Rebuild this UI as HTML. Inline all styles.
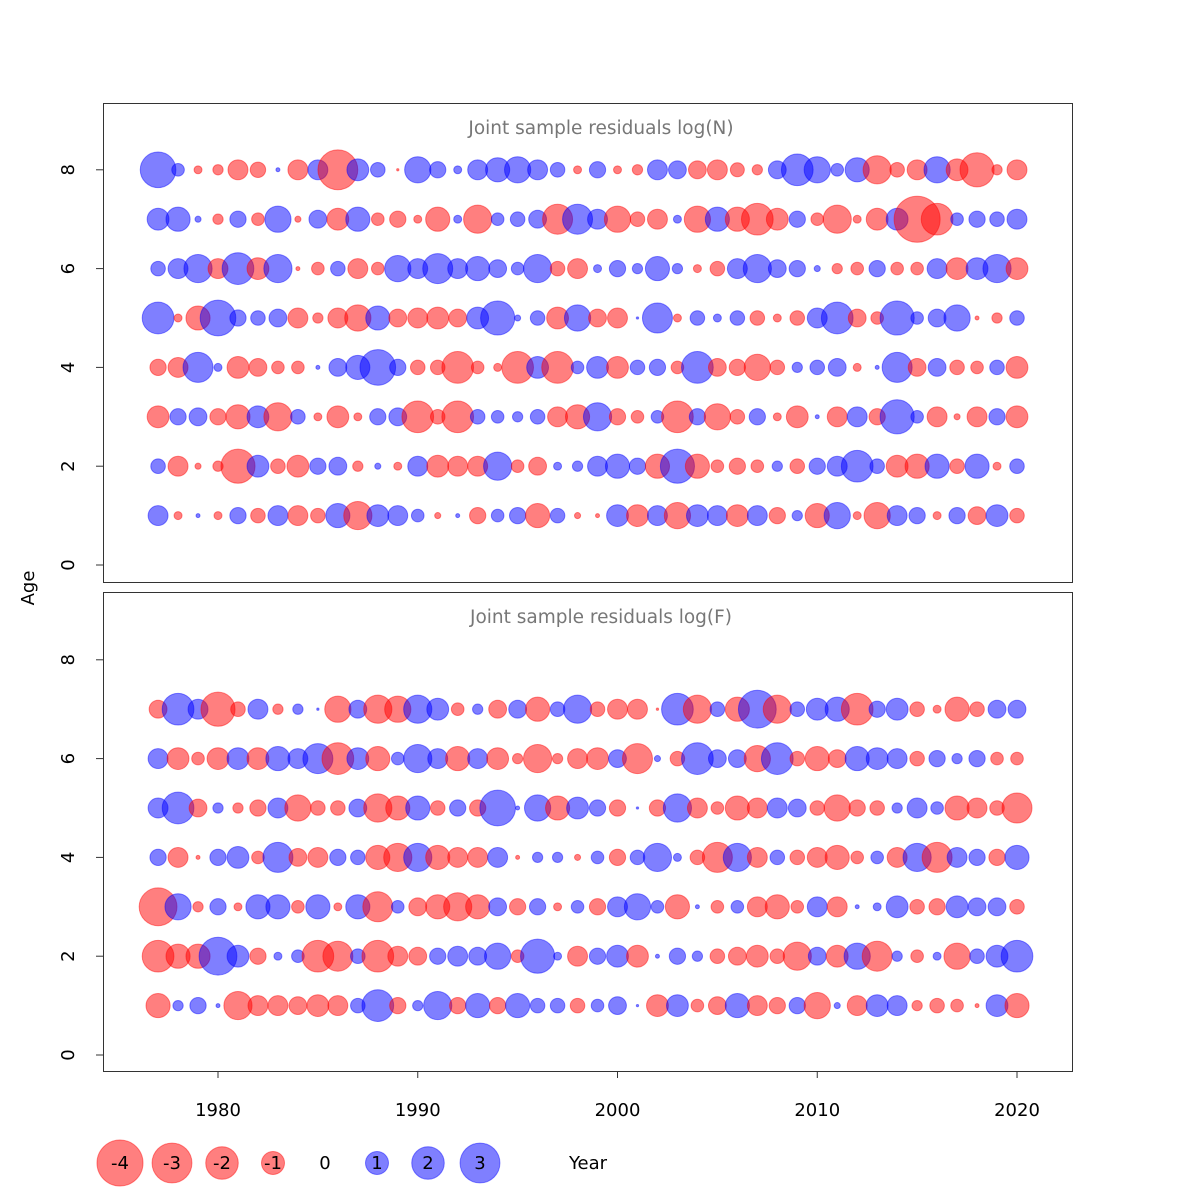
<!DOCTYPE html>
<html><head><meta charset="utf-8"><style>
html,body{margin:0;padding:0;background:#fff;}
svg{display:block;font-family:"DejaVu Sans","Liberation Sans",sans-serif;}
</style></head><body>
<svg id="chart" width="1200" height="1200" viewBox="0 0 1200 1200" xmlns="http://www.w3.org/2000/svg">
<rect width="1200" height="1200" fill="#fff"/>
<g id="panels"></g>
<text x="34" y="588" font-size="18" text-anchor="middle" transform="rotate(-90 34 588)">Age</text>
<text x="588" y="1169" font-size="18" text-anchor="middle">Year</text>
<g id="legend"></g>
</svg>
<script>
const years = [];
for (let y = 1977; y <= 2020; y++) years.push(y);
const xTicks = [1980, 1990, 2000, 2010, 2020];
const yTicks = [0, 2, 4, 6, 8];
const legendValues = [-4, -3, -2, -1, 0, 1, 2, 3];

// Top panel: log(N) residuals, ages 1..8
const nAge8 = [2.4,0.3,-0.12,-0.2,-0.75,-0.45,0.03,-0.75,0.75,-3.0,0.9,0.4,-0.01,1.3,0.5,0.12,0.75,1.1,1.3,0.75,0.4,-0.12,0.5,-0.12,-0.2,0.75,0.6,-0.6,-0.75,-0.37,-0.2,0.6,1.9,1.3,0.3,1.1,-1.5,-0.4,-0.75,1.3,-0.9,-2.2,-0.2,-0.75];
const nAge7 = [0.9,1.1,0.07,-0.2,0.5,-0.3,1.3,-0.07,0.6,-0.9,1.1,-0.3,-0.5,-0.12,-1.1,0.12,-1.5,0.3,0.4,0.6,-1.7,1.7,0.75,-1.3,-0.4,-0.75,0.12,-1.3,1.1,-1.1,-1.9,-0.9,0.5,-0.3,-1.5,-0.12,-0.9,0.9,-4.0,-1.9,0.3,0.5,0.4,0.75];
const nAge6 = [0.4,0.75,1.5,-0.75,1.9,-0.9,1.5,-0.03,-0.3,0.4,-0.75,-0.3,1.3,0.75,1.7,0.75,1.1,0.6,0.3,1.5,-0.4,-0.75,0.12,0.5,0.2,1.1,0.2,-0.12,-0.4,0.75,1.5,0.6,0.5,0.07,-0.2,-0.3,0.5,-0.3,-0.3,0.75,-0.9,0.9,1.5,-0.9];
const nAge5 = [1.9,-0.12,-1.1,2.4,0.5,0.4,0.6,-0.75,-0.2,-0.75,-1.3,1.1,-0.6,-0.75,-0.9,-0.6,0.9,2.2,0.07,0.4,-0.9,1.3,-0.6,-0.75,0.01,1.7,-0.12,0.4,0.12,0.4,-0.4,-0.12,-0.4,0.75,1.9,-0.6,-0.3,2.2,0.3,0.6,1.3,-0.03,-0.2,0.4];
const nAge4 = [-0.5,-0.75,1.7,0.12,-0.9,-0.6,-0.3,-0.3,0.03,0.6,1.1,2.4,0.5,-0.4,-0.4,-1.9,-0.3,-0.12,-1.9,0.9,-1.9,0.3,0.9,-0.9,0.4,0.5,-0.3,1.9,-0.6,-0.5,-1.3,-0.4,0.2,0.4,0.6,-0.12,0.03,1.7,-0.6,0.6,-0.4,-0.3,0.4,-0.9];
const nAge3 = [-0.9,0.5,0.6,-0.5,-1.1,0.9,-1.5,0.4,-0.12,-0.9,-0.12,0.5,0.6,-1.9,-0.4,-1.9,0.4,0.3,0.2,0.4,-0.75,-1.1,1.5,-0.5,-0.3,0.3,-1.9,0.5,-1.3,-0.4,0.5,-0.12,-0.9,0.03,-0.75,0.75,-0.5,2.2,0.3,-0.75,-0.07,-0.75,0.5,-0.9];
const nAge2 = [0.4,-0.75,-0.07,-0.2,-2.2,0.9,-0.4,-0.9,0.5,0.6,-0.2,0.07,-0.12,0.75,-0.9,-0.75,-0.75,1.5,-0.3,-0.6,0.12,0.2,0.75,1.1,0.5,-1.1,2.2,-1.1,-0.3,-0.5,-0.3,0.2,-0.4,0.5,0.75,1.9,0.4,-0.9,-1.1,1.1,-0.4,1.1,-0.12,0.4];
const nAge1 = [0.75,-0.12,0.03,-0.12,0.5,-0.4,0.75,-0.75,-0.4,1.1,-1.5,0.9,0.75,0.3,-0.07,0.03,-0.5,0.3,0.5,-1.1,0.4,-0.07,-0.03,0.9,-0.9,0.75,-1.3,0.9,0.75,-0.9,0.75,-0.5,0.2,-1.1,1.3,-0.12,-1.3,0.75,0.5,-0.12,0.5,-0.6,0.9,-0.4];

// Bottom panel: log(F) residuals, ages 1..7
const fAge7 = [-0.6,1.9,0.75,-2.2,-0.4,0.75,-0.2,0.2,0.01,-1.3,0.6,-1.5,-1.3,1.5,0.9,-0.3,0.2,-0.6,0.6,-1.1,0.4,1.5,-0.4,-0.75,-0.75,-0.01,1.9,-1.5,0.4,-1.1,2.7,-1.5,0.4,0.9,1.1,-1.9,0.5,0.9,-0.4,-0.12,-1.1,-0.4,0.6,0.6];
const fAge6 = [0.75,-0.9,-0.3,-0.9,0.9,-0.9,1.1,0.75,1.7,-1.9,0.9,-1.1,0.3,1.5,0.75,-1.1,0.75,-0.9,-0.2,-1.5,-0.2,-0.75,-0.9,0.6,-1.7,0.07,-0.4,1.9,0.6,0.6,-1.3,1.9,-0.4,-1.1,-0.6,1.1,0.9,0.75,-0.4,0.5,0.2,0.5,-0.3,-0.3];
const fAge5 = [0.75,1.9,-0.6,0.2,-0.2,-0.5,0.75,-1.3,-0.4,-0.4,0.6,-1.5,-1.1,1.1,-0.4,0.5,-0.5,2.4,0.03,1.3,-1.1,0.9,0.5,-0.5,0.01,-0.5,1.5,-0.75,-0.3,-1.1,-0.75,0.75,0.6,-0.4,-1.3,-0.5,-0.4,0.2,0.75,0.3,-1.1,-0.75,-0.4,-1.7];
const fAge4 = [0.5,-0.75,-0.03,0.5,0.9,-0.3,1.7,-0.6,-0.75,0.5,0.4,-1.1,-1.5,1.5,-1.1,-0.75,-0.75,0.75,-0.03,0.2,0.2,-0.07,0.3,-0.5,0.4,1.5,0.12,-0.4,-1.7,1.5,-0.75,0.4,-0.4,-0.75,-1.1,-0.3,0.3,-0.75,1.5,-1.7,0.75,0.5,-0.5,1.1];
const fAge3 = [-2.7,1.3,-0.2,0.5,-0.12,1.1,1.1,-0.3,1.1,-0.12,1.1,-1.7,0.3,-0.6,-1.1,-1.5,-1.1,0.6,-0.5,0.5,-0.12,0.3,-0.5,0.75,1.3,0.3,-1.1,0.03,-0.3,0.3,-0.75,-1.1,-0.3,0.75,-0.75,0.03,0.12,0.9,-0.4,-0.5,0.9,0.6,0.6,-0.4];
const fAge2 = [-1.9,-1.1,-1.1,2.7,0.9,-0.5,0.12,0.3,-1.9,-1.7,0.4,-1.9,-0.75,-0.6,0.5,0.75,0.6,1.3,-0.3,2.2,0.12,-0.75,0.5,0.9,-0.9,0.03,0.5,0.2,-0.4,-0.6,-0.9,-0.4,-1.5,0.6,-0.9,1.3,-1.7,0.2,-0.3,0.12,-1.3,0.4,0.9,1.9];
const fAge1 = [-1.1,0.2,0.5,0.03,-1.5,-0.75,-0.75,-0.6,-0.9,-0.75,0.4,1.9,-0.5,0.2,1.5,-0.5,1.1,-0.5,1.1,0.4,0.4,-0.4,0.3,0.6,0.01,-0.9,0.9,-0.3,-0.6,1.1,-0.75,-0.5,0.5,-1.3,0.07,-0.75,0.9,0.75,-0.2,-0.4,-0.3,-0.03,0.9,-1.1];

const nSeries = [nAge1,nAge2,nAge3,nAge4,nAge5,nAge6,nAge7,nAge8];
const fSeries = [fAge1,fAge2,fAge3,fAge4,fAge5,fAge6,fAge7];

const NS = 'http://www.w3.org/2000/svg';
const svg = document.getElementById('chart');
const panelsG = document.getElementById('panels');
const legendG = document.getElementById('legend');
const X0 = 1980, XPX0 = 218, XPX_PER = 19.975;
const xScale = yr => XPX0 + (yr - X0) * XPX_PER;
const rScale = v => 11.5 * Math.sqrt(Math.abs(v));
const RED = 'rgba(255,0,0,0.5)', BLUE = 'rgba(0,0,255,0.5)';
const REDS = 'rgba(255,0,0,0.45)', BLUES = 'rgba(0,0,255,0.45)';

function mk(tag, attrs, parent) {
  const e = document.createElementNS(NS, tag);
  for (const k in attrs) e.setAttribute(k, attrs[k]);
  parent.appendChild(e);
  return e;
}

function drawPanel(top, bottom, zeroY, series, title, key) {
  const yScale = a => zeroY - a * 49.4;
  const g = mk('g', {}, panelsG);
  
  
  const box = mk('rect', {x:103.5, y:top+0.5, width:969, height:bottom-top, fill:'none', stroke:'#333', 'stroke-width':1}, g);
  
  
  const t = mk('text', {x:601, y:top+31, 'font-size':18.5, fill:'#777', 'text-anchor':'middle'}, g);
  t.textContent = title;
  
  
  yTicks.forEach(v => {
    const y = yScale(v);
    const tk = mk('line', {x1:96, x2:103, y1:y, y2:y, stroke:'#333'}, g);
    
    
    const lb = mk('text', {x:74, y:y, 'font-size':18, 'text-anchor':'middle', transform:'rotate(-90 74 '+y+')'}, g);
    lb.textContent = v;
    
    
  });
  series.forEach((vals, ai) => {
    const age = ai + 1;
    vals.forEach((v, yi) => {
      const c = mk('circle', {cx:xScale(years[yi]), cy:yScale(age), r:rScale(v), fill: v < 0 ? RED : BLUE, stroke: v < 0 ? REDS : BLUES, 'stroke-width':1}, g);
      
      
    });
  });
}

drawPanel(103, 582, 565, nSeries, 'Joint sample residuals log(N)', 'logn');
drawPanel(592, 1071, 1055, fSeries, 'Joint sample residuals log(F)', 'logf');

// x axis
xTicks.forEach(yr => {
  const x = xScale(yr);
  const tk = mk('line', {x1:x, x2:x, y1:1071, y2:1078, stroke:'#333'}, svg);
  
  
  const lb = mk('text', {x:x, y:1116, 'font-size':18, 'text-anchor':'middle'}, svg);
  lb.textContent = yr;
  
  
});

// legend
legendValues.forEach((v, i) => {
  const r = rScale(v);
  const cx = [120,172,222,273,325,377,428,480][i];
  if (v !== 0) {
    const c = mk('circle', {cx:cx, cy:1163, r:r, fill: v < 0 ? RED : BLUE, stroke: v < 0 ? REDS : BLUES, 'stroke-width':1}, legendG);
    
    
  }
  const t = mk('text', {x:cx, y:1169, 'font-size':18, 'text-anchor':'middle'}, legendG);
  t.textContent = v;
  
  
});
</script>
</body></html>
